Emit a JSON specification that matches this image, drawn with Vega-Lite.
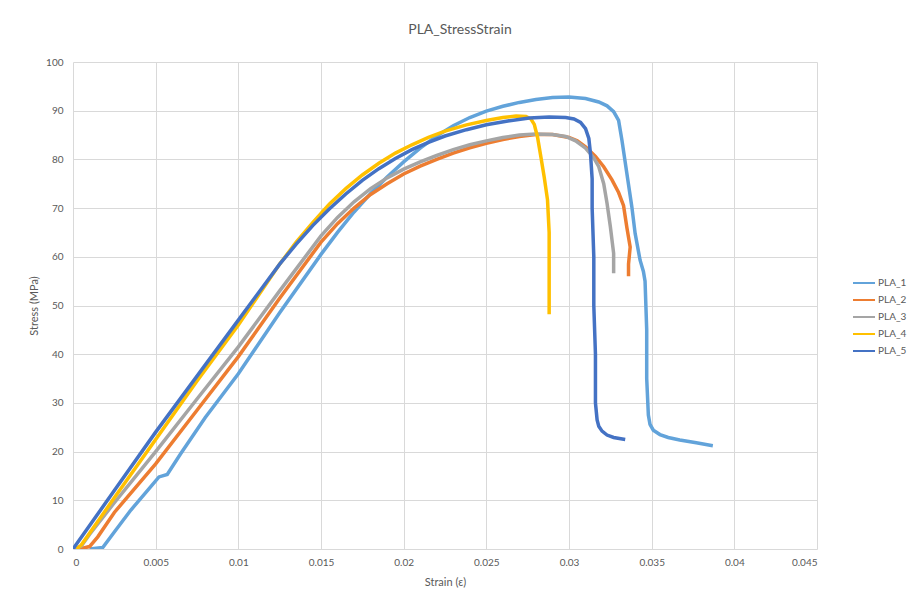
{
  "$schema": "https://vega.github.io/schema/vega-lite/v6.json",
  "autosize": {"type": "none"},
  "width": 744,
  "height": 487,
  "padding": {"left": 73, "top": 62, "right": 96, "bottom": 57},
  "background": "white",
  "title": {"text": "PLA_StressStrain", "fontSize": 14, "font": "Lato", "fontWeight": "normal", "color": "#595959", "offset": 20, "dx": 15},
  "config": {
    "view": {"stroke": null},
    "axis": {"labelFont": "Lato", "labelFontSize": 10, "labelColor": "#595959", "titleFont": "Lato", "titleFontSize": 11, "titleFontWeight": "normal", "titleColor": "#595959", "gridColor": "#D9D9D9", "gridWidth": 1, "ticks": false, "domain": false},
    "legend": {"labelFont": "Lato", "labelFontSize": 10, "labelColor": "#595959"}
  },
  "data": {"values": [
    {"s":"PLA_1","x":0.0010,"y":0},{"s":"PLA_1","x":0.0018,"y":0.3},{"s":"PLA_1","x":0.0025,"y":3.5},{"s":"PLA_1","x":0.0035,"y":8},{"s":"PLA_1","x":0.0045,"y":12},{"s":"PLA_1","x":0.0052,"y":14.8},{"s":"PLA_1","x":0.0057,"y":15.3},{"s":"PLA_1","x":0.0065,"y":19.5},{"s":"PLA_1","x":0.008,"y":27},{"s":"PLA_1","x":0.010,"y":36},{"s":"PLA_1","x":0.0125,"y":48.5},{"s":"PLA_1","x":0.015,"y":60.5},{"s":"PLA_1","x":0.016,"y":65},{"s":"PLA_1","x":0.017,"y":69.2},{"s":"PLA_1","x":0.018,"y":73},{"s":"PLA_1","x":0.019,"y":76.4},{"s":"PLA_1","x":0.020,"y":79.5},{"s":"PLA_1","x":0.021,"y":82.3},{"s":"PLA_1","x":0.022,"y":84.8},{"s":"PLA_1","x":0.023,"y":86.9},{"s":"PLA_1","x":0.024,"y":88.6},{"s":"PLA_1","x":0.025,"y":89.9},{"s":"PLA_1","x":0.026,"y":90.9},{"s":"PLA_1","x":0.027,"y":91.7},{"s":"PLA_1","x":0.028,"y":92.3},{"s":"PLA_1","x":0.029,"y":92.7},{"s":"PLA_1","x":0.030,"y":92.8},{"s":"PLA_1","x":0.031,"y":92.5},{"s":"PLA_1","x":0.0318,"y":91.8},{"s":"PLA_1","x":0.0323,"y":91},{"s":"PLA_1","x":0.0327,"y":89.8},{"s":"PLA_1","x":0.0330,"y":88},{"s":"PLA_1","x":0.0332,"y":84},{"s":"PLA_1","x":0.0335,"y":77.1},{"s":"PLA_1","x":0.0338,"y":70.3},{"s":"PLA_1","x":0.0340,"y":64.8},{"s":"PLA_1","x":0.0343,"y":59.3},{"s":"PLA_1","x":0.0345,"y":57},{"s":"PLA_1","x":0.0346,"y":55},{"s":"PLA_1","x":0.0347,"y":45},{"s":"PLA_1","x":0.0347,"y":35},{"s":"PLA_1","x":0.0348,"y":27.5},{"s":"PLA_1","x":0.0349,"y":25.6},{"s":"PLA_1","x":0.0351,"y":24.4},{"s":"PLA_1","x":0.0355,"y":23.5},{"s":"PLA_1","x":0.0360,"y":22.9},{"s":"PLA_1","x":0.0367,"y":22.4},{"s":"PLA_1","x":0.0377,"y":21.8},{"s":"PLA_1","x":0.0387,"y":21.2},
    {"s":"PLA_2","x":0.0004,"y":0},{"s":"PLA_2","x":0.0010,"y":0.5},{"s":"PLA_2","x":0.0015,"y":2.5},{"s":"PLA_2","x":0.0025,"y":7.5},{"s":"PLA_2","x":0.005,"y":17.5},{"s":"PLA_2","x":0.0075,"y":28.5},{"s":"PLA_2","x":0.010,"y":39.5},{"s":"PLA_2","x":0.0125,"y":51.5},{"s":"PLA_2","x":0.015,"y":63},{"s":"PLA_2","x":0.016,"y":66.8},{"s":"PLA_2","x":0.017,"y":70},{"s":"PLA_2","x":0.018,"y":72.8},{"s":"PLA_2","x":0.019,"y":75},{"s":"PLA_2","x":0.020,"y":77},{"s":"PLA_2","x":0.021,"y":78.6},{"s":"PLA_2","x":0.022,"y":80},{"s":"PLA_2","x":0.023,"y":81.3},{"s":"PLA_2","x":0.024,"y":82.4},{"s":"PLA_2","x":0.025,"y":83.3},{"s":"PLA_2","x":0.026,"y":84.1},{"s":"PLA_2","x":0.027,"y":84.7},{"s":"PLA_2","x":0.028,"y":85.1},{"s":"PLA_2","x":0.029,"y":85.1},{"s":"PLA_2","x":0.030,"y":84.5},{"s":"PLA_2","x":0.0305,"y":83.8},{"s":"PLA_2","x":0.031,"y":82.6},{"s":"PLA_2","x":0.0316,"y":80.6},{"s":"PLA_2","x":0.0321,"y":78.5},{"s":"PLA_2","x":0.0326,"y":75.8},{"s":"PLA_2","x":0.033,"y":73.2},{"s":"PLA_2","x":0.0333,"y":70.5},{"s":"PLA_2","x":0.0335,"y":66},{"s":"PLA_2","x":0.0337,"y":62},{"s":"PLA_2","x":0.0336,"y":58.5},{"s":"PLA_2","x":0.0336,"y":56},
    {"s":"PLA_3","x":0.0001,"y":0},{"s":"PLA_3","x":0.0005,"y":0.6},{"s":"PLA_3","x":0.001,"y":3},{"s":"PLA_3","x":0.0025,"y":9.5},{"s":"PLA_3","x":0.005,"y":20},{"s":"PLA_3","x":0.0075,"y":30.8},{"s":"PLA_3","x":0.010,"y":41.5},{"s":"PLA_3","x":0.0125,"y":53},{"s":"PLA_3","x":0.015,"y":64.3},{"s":"PLA_3","x":0.016,"y":68.1},{"s":"PLA_3","x":0.017,"y":71.3},{"s":"PLA_3","x":0.018,"y":74},{"s":"PLA_3","x":0.019,"y":76.2},{"s":"PLA_3","x":0.020,"y":78},{"s":"PLA_3","x":0.021,"y":79.5},{"s":"PLA_3","x":0.022,"y":80.8},{"s":"PLA_3","x":0.023,"y":82},{"s":"PLA_3","x":0.024,"y":83},{"s":"PLA_3","x":0.025,"y":83.8},{"s":"PLA_3","x":0.026,"y":84.5},{"s":"PLA_3","x":0.027,"y":85},{"s":"PLA_3","x":0.028,"y":85.2},{"s":"PLA_3","x":0.029,"y":85.1},{"s":"PLA_3","x":0.0298,"y":84.7},{"s":"PLA_3","x":0.0304,"y":83.8},{"s":"PLA_3","x":0.031,"y":82.3},{"s":"PLA_3","x":0.0315,"y":80.3},{"s":"PLA_3","x":0.0318,"y":78.5},{"s":"PLA_3","x":0.0321,"y":75},{"s":"PLA_3","x":0.0323,"y":71},{"s":"PLA_3","x":0.0325,"y":66.2},{"s":"PLA_3","x":0.0327,"y":60.7},{"s":"PLA_3","x":0.0327,"y":56.6},
    {"s":"PLA_4","x":0.0002,"y":0},{"s":"PLA_4","x":0.0005,"y":0.8},{"s":"PLA_4","x":0.0025,"y":10.5},{"s":"PLA_4","x":0.005,"y":22.5},{"s":"PLA_4","x":0.0075,"y":34.5},{"s":"PLA_4","x":0.010,"y":46},{"s":"PLA_4","x":0.0125,"y":58.5},{"s":"PLA_4","x":0.0135,"y":63},{"s":"PLA_4","x":0.0145,"y":67},{"s":"PLA_4","x":0.0155,"y":70.8},{"s":"PLA_4","x":0.0165,"y":74},{"s":"PLA_4","x":0.0175,"y":76.8},{"s":"PLA_4","x":0.0185,"y":79.2},{"s":"PLA_4","x":0.0195,"y":81.3},{"s":"PLA_4","x":0.0205,"y":83},{"s":"PLA_4","x":0.0215,"y":84.5},{"s":"PLA_4","x":0.0225,"y":85.8},{"s":"PLA_4","x":0.0238,"y":87.1},{"s":"PLA_4","x":0.025,"y":88},{"s":"PLA_4","x":0.026,"y":88.6},{"s":"PLA_4","x":0.0268,"y":88.9},{"s":"PLA_4","x":0.0274,"y":88.8},{"s":"PLA_4","x":0.0277,"y":88.3},{"s":"PLA_4","x":0.0279,"y":87.2},{"s":"PLA_4","x":0.0281,"y":84.5},{"s":"PLA_4","x":0.0283,"y":80.5},{"s":"PLA_4","x":0.0285,"y":76.4},{"s":"PLA_4","x":0.0287,"y":71.7},{"s":"PLA_4","x":0.0288,"y":65},{"s":"PLA_4","x":0.0288,"y":59.3},{"s":"PLA_4","x":0.0288,"y":52},{"s":"PLA_4","x":0.0288,"y":48.2},
    {"s":"PLA_5","x":0.0,"y":0},{"s":"PLA_5","x":0.0025,"y":12},{"s":"PLA_5","x":0.005,"y":24},{"s":"PLA_5","x":0.0075,"y":35.5},{"s":"PLA_5","x":0.010,"y":47},{"s":"PLA_5","x":0.0125,"y":58.5},{"s":"PLA_5","x":0.0135,"y":62.6},{"s":"PLA_5","x":0.0145,"y":66.4},{"s":"PLA_5","x":0.0155,"y":69.8},{"s":"PLA_5","x":0.0165,"y":72.9},{"s":"PLA_5","x":0.0175,"y":75.7},{"s":"PLA_5","x":0.0185,"y":78.1},{"s":"PLA_5","x":0.0195,"y":80.2},{"s":"PLA_5","x":0.0205,"y":82},{"s":"PLA_5","x":0.0215,"y":83.5},{"s":"PLA_5","x":0.0225,"y":84.8},{"s":"PLA_5","x":0.0238,"y":86.1},{"s":"PLA_5","x":0.025,"y":87.1},{"s":"PLA_5","x":0.0263,"y":87.9},{"s":"PLA_5","x":0.0276,"y":88.5},{"s":"PLA_5","x":0.0288,"y":88.7},{"s":"PLA_5","x":0.0298,"y":88.6},{"s":"PLA_5","x":0.0303,"y":88.3},{"s":"PLA_5","x":0.0307,"y":87.6},{"s":"PLA_5","x":0.031,"y":86.3},{"s":"PLA_5","x":0.0312,"y":84.3},{"s":"PLA_5","x":0.0313,"y":81.2},{"s":"PLA_5","x":0.0314,"y":76},{"s":"PLA_5","x":0.0314,"y":70},{"s":"PLA_5","x":0.0315,"y":60},{"s":"PLA_5","x":0.0315,"y":50},{"s":"PLA_5","x":0.0316,"y":40},{"s":"PLA_5","x":0.0316,"y":30},{"s":"PLA_5","x":0.0317,"y":26.5},{"s":"PLA_5","x":0.0318,"y":25.2},{"s":"PLA_5","x":0.032,"y":24.2},{"s":"PLA_5","x":0.0323,"y":23.4},{"s":"PLA_5","x":0.0327,"y":22.9},{"s":"PLA_5","x":0.0334,"y":22.5}
  ]},
  "mark": {"type": "line", "strokeWidth": 3.5, "clip": true},
  "encoding": {
    "x": {"field": "x", "type": "quantitative", "scale": {"domain": [0, 0.045], "nice": false},
      "axis": {"title": "Strain (ε)", "values": [0,0.005,0.01,0.015,0.02,0.025,0.03,0.035,0.04,0.045], "format": "~g", "labelPadding": 8, "titlePadding": 9}},
    "y": {"field": "y", "type": "quantitative", "scale": {"domain": [0, 100], "nice": false},
      "axis": {"title": "Stress (MPa)", "values": [0,10,20,30,40,50,60,70,80,90,100], "labelPadding": 10, "titlePadding": 6}},
    "color": {"field": "s", "type": "nominal",
      "scale": {"domain": ["PLA_1","PLA_2","PLA_3","PLA_4","PLA_5"], "range": ["#62A3DA","#ED7D31","#A5A5A5","#FFC000","#4472C4"]},
      "legend": {"title": null, "orient": "none", "legendX": 779, "legendY": 209, "symbolType": "stroke", "symbolSize": 484, "symbolStrokeWidth": 2, "rowPadding": -1, "labelOffset": 2}},
    "order": {"value": null}
  }
}
